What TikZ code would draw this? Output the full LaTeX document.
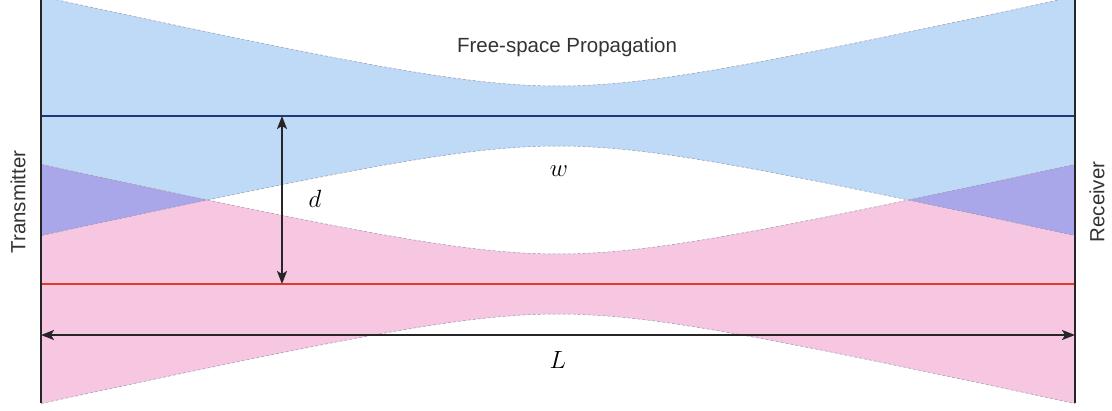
\documentclass[tikz,border=0pt]{standalone}
\usepackage{fontspec}
\setsansfont{Liberation Sans}
\usetikzlibrary{arrows.meta}
\definecolor{beamblue}{RGB}{190,218,246}
\definecolor{beampink}{RGB}{247,199,225}
\definecolor{beampurple}{RGB}{170,166,234}
\definecolor{axisblue}{RGB}{35,55,125}
\definecolor{axisred}{RGB}{220,60,40}
\definecolor{edgegray}{RGB}{150,150,175}
\def\bluebeam{plot[domain=41:1075,samples=150] (\x,{116-30*sqrt(1+((\x-558)/134)^2)}) -- plot[domain=1075:41,samples=150] (\x,{116+30*sqrt(1+((\x-558)/134)^2)}) -- cycle}
\def\redbeam{plot[domain=41:1075,samples=150] (\x,{284-30*sqrt(1+((\x-558)/134)^2)}) -- plot[domain=1075:41,samples=150] (\x,{284+30*sqrt(1+((\x-558)/134)^2)}) -- cycle}
\begin{document}
\begin{tikzpicture}[x=1pt,y=-1pt,
  beamedge/.style={draw=edgegray,line width=0.5pt,dash pattern=on 3pt off 2pt},
  screen/.style={draw=black!85,line width=2.6pt},
  dimarrow/.style={draw=black!85,line width=2pt,{Stealth[length=13pt,width=10pt,inset=3pt]}-{Stealth[length=13pt,width=10pt,inset=3pt]}},
  sanslabel/.style={font=\sffamily\fontsize{20.5}{24}\selectfont,text=black!80,inner sep=0pt},
  mathlabel/.style={font=\fontsize{27}{32}\selectfont,inner sep=0pt}]
\useasboundingbox (0,0) rectangle (1112,410);
% beams
\fill[beamblue] \bluebeam;
\fill[beampink] \redbeam;
\begin{scope}
  \clip \bluebeam;
  \fill[beampurple] \redbeam;
\end{scope}
% beam edges
\foreach \c/\s in {116/-1,116/1,284/-1,284/1}{
  \draw[beamedge] plot[domain=41:1075,samples=150] (\x,{\c+\s*30*sqrt(1+((\x-558)/134)^2)});
}
% coordinates
\coordinate (tt) at (41,0);
\coordinate (tb) at (41,403);
\coordinate (rt) at (1075,0);
\coordinate (rb) at (1075,403);
\coordinate (bl) at (41,116);
\coordinate (br) at (1075,116);
\coordinate (rl) at (41,284);
\coordinate (rr) at (1075,284);
\coordinate (dt) at (282,116);
\coordinate (db) at (282,284);
\coordinate (ll) at (41,335);
\coordinate (lr) at (1075,335);
% axes
\draw[axisblue,line width=2.3pt] (bl) -- (br);
\draw[axisred,line width=2.3pt] (rl) -- (rr);
% screens
\draw[screen] (tt) -- (tb);
\draw[screen] (rt) -- (rb);
% dimensions
\draw[dimarrow] (dt) -- (db);
\draw[dimarrow] (ll) -- (lr);
% labels
\node[sanslabel,anchor=base] (fsp) at (567,52) {Free-space Propagation};
\node[sanslabel,rotate=90] (tx) at (18,202) {Transmitter};
\node[sanslabel,rotate=90] (rx) at (1097,202) {Receiver};
\node[mathlabel] (wl) at (559,171) {$w$};
\node[mathlabel] (dl) at (315,199) {$d$};
\node[mathlabel] (Ll) at (558,360) {$L$};
\end{tikzpicture}
\end{document}
